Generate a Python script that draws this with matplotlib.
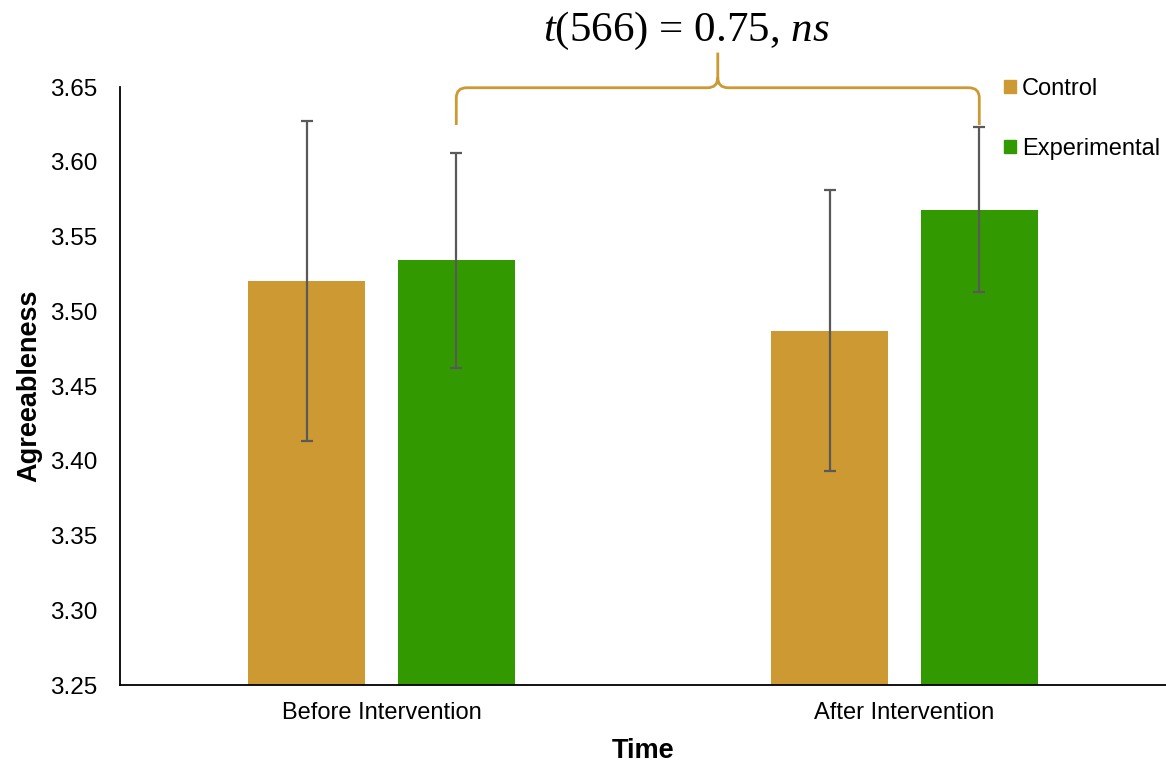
import matplotlib
matplotlib.use("Agg")
import matplotlib.pyplot as plt
import numpy as np
from matplotlib.path import Path
from matplotlib.patches import PathPatch, Patch

# data
categories = ["Before Intervention", "After Intervention"]
groups = ["Control", "Experimental"]
control_means = [3.520, 3.487]
control_err = [0.107, 0.094]
exp_means = [3.534, 3.568]
exp_err = [0.072, 0.055]

colors = ["#CD9933", "#339900"]
err_color = "#595959"

plt.rcParams["font.family"] = ["Liberation Sans", "DejaVu Sans"]
plt.rcParams["mathtext.fontset"] = "custom"
plt.rcParams["mathtext.rm"] = "Liberation Serif"
plt.rcParams["mathtext.it"] = "Liberation Serif:italic"

fig = plt.figure(figsize=(11.66, 7.63), dpi=100)
ax = fig.add_axes([120 / 1166, 1 - 685 / 763, 1046 / 1166, 598 / 763])

x = np.arange(len(categories))
width = 0.224
offset = 0.143
err_kw = dict(ecolor=err_color, elinewidth=1.6, capsize=4.5, capthick=1.6)

ax.bar(x - offset, control_means, width, yerr=control_err, color=colors[0],
       error_kw=err_kw, label=groups[0], zorder=2)
ax.bar(x + offset, exp_means, width, yerr=exp_err, color=colors[1],
       error_kw=err_kw, label=groups[1], zorder=2)

ax.set_xlim(-0.5, 1.5)
ax.set_ylim(3.25, 3.65)
yt = np.arange(3.25, 3.651, 0.05)
ax.set_yticks(yt)
ax.set_yticklabels([f"{v:.2f}" for v in yt])
ax.set_xticks(x)
ax.set_xticklabels(categories)
ax.tick_params(axis="y", length=0, labelsize=17.5, pad=16)
ax.tick_params(axis="x", length=0, labelsize=17, pad=12)
for s in ["top", "right"]:
    ax.spines[s].set_visible(False)
for s in ["left", "bottom"]:
    ax.spines[s].set_linewidth(1.3)
    ax.spines[s].set_color("black")

ax.set_xlabel("Time", fontsize=19.5, fontweight="bold", labelpad=10)
ax.set_ylabel("Agreeableness", fontsize=19.5, fontweight="bold", labelpad=6)

# curly brace between the experimental bars
x0 = x[0] + offset
x1 = x[1] + offset
xm = (x0 + x1) / 2
y_h = 3.6495
y_end = 3.6246
y_peak = 3.673
rx, ry = 0.02, 0.0068
verts = [
    (x0, y_end), (x0, y_h - ry), (x0, y_h), (x0 + rx, y_h),
    (xm - rx, y_h), (xm, y_h), (xm, y_h + ry), (xm, y_peak),
    (xm, y_h + ry), (xm, y_h), (xm + rx, y_h),
    (x1 - rx, y_h), (x1, y_h), (x1, y_h - ry), (x1, y_end),
]
codes = [
    Path.MOVETO, Path.LINETO, Path.CURVE3, Path.CURVE3,
    Path.LINETO, Path.CURVE3, Path.CURVE3, Path.LINETO,
    Path.MOVETO, Path.CURVE3, Path.CURVE3,
    Path.LINETO, Path.CURVE3, Path.CURVE3, Path.LINETO,
]
brace = PathPatch(Path(verts, codes), facecolor="none", edgecolor=colors[0],
                  lw=2, clip_on=False, zorder=3)
ax.add_patch(brace)

fig.text(686 / 1166, 1 - 31 / 763, r"$t$(566) = 0.75, $ns$",
         fontsize=31, family="Liberation Serif", ha="center", va="center")

handles = [Patch(color=c, label=g) for c, g in zip(colors, groups)]
fig.legend(handles=handles, loc="upper left", bbox_to_anchor=(1004 / 1166, 1 - 78 / 763),
           frameon=False, fontsize=17, handlelength=0.5, handleheight=0.5,
           handletextpad=0.25, labelspacing=1.6, borderpad=0, borderaxespad=0)

fig.savefig("out.png", dpi=100)
